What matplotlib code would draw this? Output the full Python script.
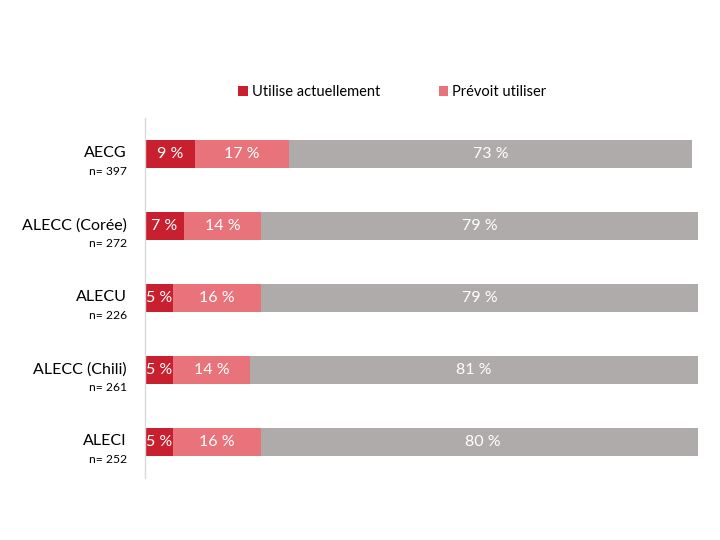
import matplotlib
matplotlib.use("Agg")
import matplotlib.pyplot as plt
from matplotlib.patches import Patch
from matplotlib.transforms import blended_transform_factory

plt.rcParams["font.family"] = ["Lato", "DejaVu Sans"]

categories = ["AECG", "ALECC (Corée)", "ALECU", "ALECC (Chili)", "ALECI"]
sample_sizes = [397, 272, 226, 261, 252]
utilise = [9, 7, 5, 5, 5]
prevoit = [17, 14, 16, 14, 16]
autre = [73, 79, 79, 81, 80]
series_names = ["Utilise actuellement", "Prévoit utiliser"]

colors = ["#C8202E", "#E8737A", "#AFABAB"]

fig = plt.figure(figsize=(7.2, 5.4), dpi=100)
ax = fig.add_axes([0.2014, 0.1148, 0.7680, 0.6666])

ypos = list(range(len(categories)))
left = [0] * len(categories)
for values, color in zip([utilise, prevoit, autre], colors):
    bars = ax.barh(ypos, values, left=left, height=0.4, color=color, edgecolor="none")
    for bar, v in zip(bars, values):
        ax.text(bar.get_x() + bar.get_width() / 2, bar.get_y() + bar.get_height() / 2,
                f"{v} %", ha="center", va="center", color="white", fontsize=11.5)
    left = [l + v for l, v in zip(left, values)]

ax.set_xlim(0, 100)
ax.set_ylim(len(categories) - 0.5, -0.5)
ax.set_xticks([])
ax.set_yticks([])
for side in ["top", "right", "bottom"]:
    ax.spines[side].set_visible(False)
ax.spines["left"].set_color("#D9D9D9")
ax.spines["left"].set_linewidth(1)

trans = blended_transform_factory(ax.transAxes, ax.transData)
for y, name, n in zip(ypos, categories, sample_sizes):
    ax.text(-0.033, y - 0.01, name, transform=trans, ha="right", va="center", fontsize=11.5)
    ax.text(-0.033, y + 0.24, f"n= {n}", transform=trans, ha="right", va="center", fontsize=8.7)

handles = [Patch(facecolor=c, edgecolor="none") for c in colors[:2]]
fig.legend(handles, series_names, loc="center", bbox_to_anchor=(0.545, 0.83), ncol=2,
           frameon=False, fontsize=10.5, handlelength=0.65, handleheight=0.7,
           handletextpad=0.3, columnspacing=4.0)

fig.savefig("out.png", dpi=100)
